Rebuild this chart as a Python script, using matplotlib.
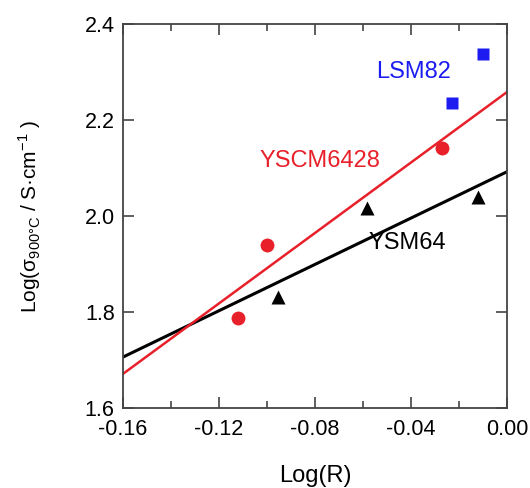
import matplotlib
matplotlib.use('Agg')
import matplotlib.pyplot as plt
from matplotlib.ticker import MultipleLocator, FormatStrFormatter

plt.rcParams['font.family'] = ['Liberation Sans', 'DejaVu Sans']
plt.rcParams['axes.unicode_minus'] = False
plt.rcParams['mathtext.fontset'] = 'custom'
plt.rcParams['mathtext.rm'] = 'Liberation Sans'

# valori
ysm_x = [-0.0954, -0.0583, -0.012]
ysm_y = [1.831, 2.017, 2.040]
yscm_x = [-0.112, -0.100, -0.027]
yscm_y = [1.787, 1.940, 2.142]
lsm_x = [-0.023, -0.010]
lsm_y = [2.235, 2.337]

# rette di fit (estremi sull'asse x)
fit_x = [-0.16, 0.0]
ysm_fit = [1.706, 2.092]
yscm_fit = [1.671, 2.258]

red = '#e8202a'
blue = '#1c1cf0'

fig = plt.figure(figsize=(5.3, 4.88), dpi=100)
ax = fig.add_axes([0.232, 0.164, 0.7245, 0.787])

ax.plot(fit_x, ysm_fit, color='black', lw=2.2, zorder=2)
ax.plot(fit_x, yscm_fit, color=red, lw=1.8, zorder=2)
ax.plot(ysm_x, ysm_y, '^', color='black', ms=10, mec='none', zorder=3)
ax.plot(yscm_x, yscm_y, 'o', color=red, ms=10, mec='none', zorder=3)
ax.plot(lsm_x, lsm_y, 's', color=blue, ms=9, mec='none', zorder=3)

ax.text(-0.0388, 2.30, 'LSM82', color=blue, fontsize=17, ha='center', va='center')
ax.text(-0.0779, 2.115, 'YSCM6428', color=red, fontsize=17, ha='center', va='center')
ax.text(-0.0417, 1.944, 'YSM64', color='black', fontsize=17, ha='center', va='center')

ax.set_xlim(-0.16, 0.0)
ax.set_ylim(1.6, 2.4)
ax.xaxis.set_major_locator(MultipleLocator(0.04))
ax.xaxis.set_minor_locator(MultipleLocator(0.02))
ax.yaxis.set_major_locator(MultipleLocator(0.2))
ax.xaxis.set_major_formatter(FormatStrFormatter('%.2f'))
ax.yaxis.set_major_formatter(FormatStrFormatter('%.1f'))
ax.tick_params(which='both', direction='in', top=True, right=True,
               labelsize=15.5, color='#444444', width=1.2, pad=6)
ax.tick_params(axis='x', which='both', pad=8)
ax.tick_params(which='major', length=8)
ax.tick_params(which='minor', length=5)
for s in ax.spines.values():
    s.set_color('#444444')
    s.set_linewidth(1.3)

ax.set_xlabel('Log(R)', fontsize=17, labelpad=18)
ax.set_ylabel('Log(σ$_{\\mathregular{900°C}}$ / S·cm$^{\\mathregular{-1}}$ )',
              fontsize=15, labelpad=30)

fig.savefig('out.png', dpi=100)
